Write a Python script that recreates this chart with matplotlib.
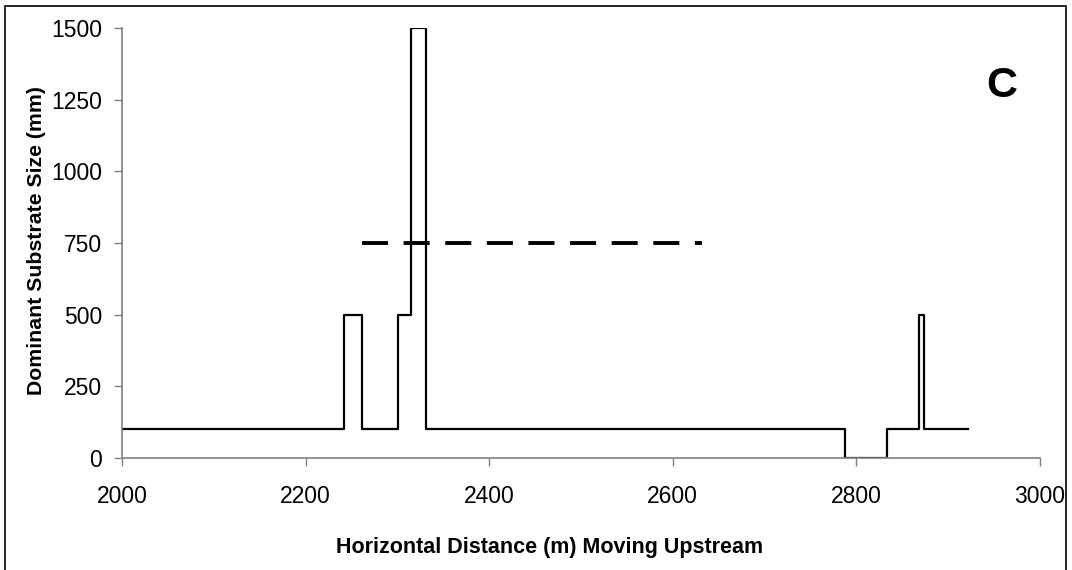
import matplotlib
matplotlib.use("Agg")
import matplotlib.pyplot as plt
from matplotlib.patches import Rectangle

plt.rcParams['font.family'] = ['Liberation Sans', 'DejaVu Sans']

# Step profile: distance where each segment starts, and substrate size of that segment
distance = [2000, 2242, 2262, 2301, 2315, 2331, 2788, 2833, 2868, 2874, 2922]
substrate = [100, 500, 100, 500, 1500, 100, 0, 100, 500, 100, 100]

# Dashed reference line
ref_x = [2262, 2632]
ref_y = [750, 750]

x_ticks = [2000, 2200, 2400, 2600, 2800, 3000]
y_ticks = [0, 250, 500, 750, 1000, 1250, 1500]

fig = plt.figure(figsize=(10.72, 5.70), dpi=100)
ax = fig.add_axes([0.1138, 0.1965, 0.8562, 0.7545])

ax.step(distance, substrate, where='post', color='black', lw=1.6)
ax.plot(ref_x, ref_y, color='black', lw=2.8, dashes=(6.7, 4.0), solid_capstyle='butt',
        dash_capstyle='butt')

ax.set_xlim(2000, 3000)
ax.set_ylim(0, 1500)
ax.set_xticks(x_ticks)
ax.set_yticks(y_ticks)
ax.tick_params(axis='both', direction='out', length=5.5, width=1, colors='#808080',
               labelcolor='black', labelsize=16.5)
ax.tick_params(axis='x', pad=14)
ax.tick_params(axis='y', pad=9)
for s in ['top', 'right']:
    ax.spines[s].set_visible(False)
for s in ['left', 'bottom']:
    ax.spines[s].set_color('#808080')
    ax.spines[s].set_linewidth(1.2)

ax.set_xlabel('Horizontal Distance (m) Moving Upstream', fontsize=15.5, fontweight='bold',
              ha='center', va='center')
ax.xaxis.set_label_coords(0.466, -0.207)
ax.set_ylabel('Dominant Substrate Size (mm)', fontsize=15.3, fontweight='bold',
              ha='center', va='center')
ax.yaxis.set_label_coords(-0.093, 0.505)

ax.text(0.958, 0.865, 'C', transform=ax.transAxes, fontsize=31, fontweight='bold',
        ha='center', va='center')

# figure border
fig.patches.append(Rectangle((5 / 1072, -0.05), (1065.5 - 5) / 1072, 1.05 - 6.5 / 570,
                             transform=fig.transFigure, fill=False, edgecolor='black',
                             lw=1.2, clip_on=False))

fig.savefig('out.png', dpi=100)
